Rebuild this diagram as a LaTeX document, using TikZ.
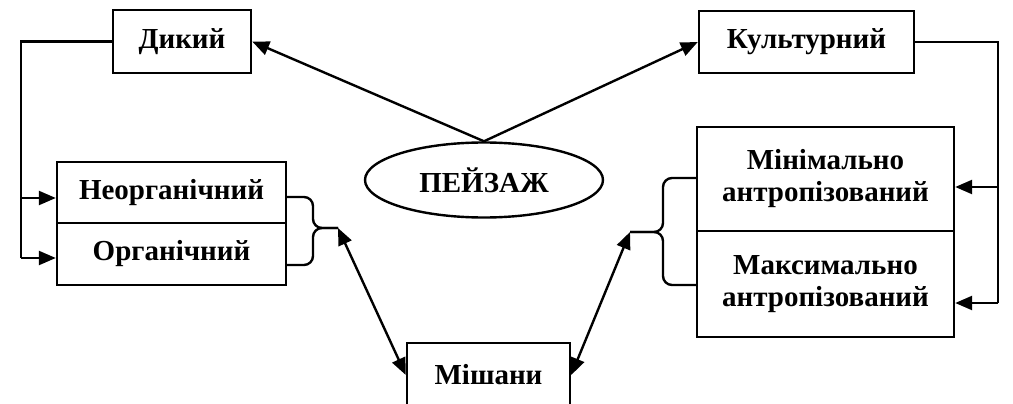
\documentclass[tikz,border=0pt]{standalone}
\usepackage{fontspec}
\setmainfont{Liberation Serif}
\usetikzlibrary{arrows.meta,shapes.geometric,positioning}
\tikzset{
  box/.style  = {shape=rectangle, draw, line width=2.4pt, align=center,
                 inner sep=0pt, font=\fontsize{29}{32}\selectfont\bfseries},
  oval/.style = {ellipse, draw, line width=2.4pt, inner sep=0pt,
                 minimum width=238, minimum height=75,
                 font=\fontsize{29}{32}\selectfont\bfseries},
  link/.style = {line width=2.4pt},
  brace/.style = {line width=2.4pt, rounded corners=9}
}
\begin{document}
\begin{tikzpicture}[x=1pt,y=-1pt,>={Triangle[length=17pt,width=14pt]}]
\useasboundingbox (0,0) rectangle (1013,404);
\clip (0,0) rectangle (1013,404);
% main node
\node [oval] (land) at (484,180) {ПЕЙЗАЖ};
% upper boxes
\node [box, minimum width=138, minimum height=63] (dyk) at (182,41.5) {Дикий};
\node [box, minimum width=215, minimum height=62] (kult) at (806.5,42) {Культурний};
% left group
\node [box, minimum width=229, minimum height=61] (neorg) at (171.5,192.5) {Неорганічний};
\node [box, minimum width=229, minimum height=62] (org) at (171.5,254) {Органічний};
% right group
\node [box, minimum width=257, minimum height=104] (mini) at (825.5,179) {Мінімально\\антропізований};
\node [box, minimum width=257, minimum height=106] (maxi) at (825.5,284) {Максимально\\антропізований};
% bottom box
\node [box, minimum width=163, minimum height=64] (mish) at (488.5,375) {Мішани};

\coordinate (ltip) at (338,228);
\coordinate (rtip) at (630,232);
\coordinate (lbus) at (21,258);
\coordinate (rbus) at (998,303);

\draw [link,->] (land.north) -- (dyk.east);
\draw [link,->] (land.north) -- (kult.west);

\draw [link] (dyk.west) -| (lbus);
\draw [link,->] (lbus |- 0,198) -- (neorg.west |- 0,198);
\draw [link,->] (lbus) -- (org.west |- lbus);

\draw [link] (kult.east) -| (rbus);
\draw [link,->] (rbus |- 0,187) -- (mini.east |- 0,187);
\draw [link,->] (rbus) -- (maxi.east |- rbus);

\draw [brace] (neorg.east |- 0,197) -- (313,197) -- (313,228) -- (ltip);
\draw [brace] (org.east |- 0,265) -- (313,265) -- (313,228) -- (ltip);
\draw [brace] (mini.west |- 0,178) -- (663,178) -- (663,232) -- (rtip);
\draw [brace] (maxi.west |- 0,285) -- (663,285) -- (663,232) -- (rtip);

\draw [link,<->] (ltip) -- (mish.west);
\draw [link,<->] (rtip) -- (mish.east);
\end{tikzpicture}
\end{document}
